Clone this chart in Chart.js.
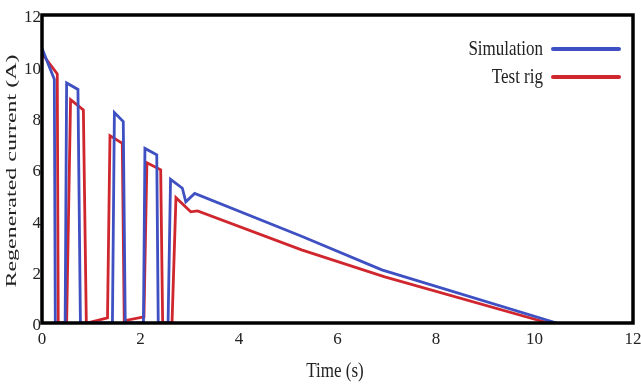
<!DOCTYPE html>
<html>
<head>
<meta charset="utf-8">
<script src="https://cdn.jsdelivr.net/npm/chart.js@4"></script>
<style>
  html, body { margin: 0; padding: 0; background: #fff; }
  #wrap { width: 641px; height: 385px; position: relative; }
</style>
</head>
<body>
<div id="wrap"><canvas id="chart"></canvas></div>
<script>
// values
const simTime = [0, 0.25, 0.27, 0.47, 0.5, 0.73, 0.78, 1.43, 1.47, 1.65, 1.69, 2.06, 2.09, 2.33, 2.36, 2.56, 2.61, 2.85, 2.92, 3.1, 5.27, 6.9, 10.45];
const simCurrent = [10.7, 9.5, 0, 0, 9.35, 9.1, 0, 0, 8.2, 7.85, 0, 0, 6.8, 6.55, 0, 0, 5.6, 5.25, 4.72, 5.05, 3.38, 2.07, 0];
const rigTime = [0, 0.31, 0.33, 0.5, 0.58, 0.84, 0.9, 0.95, 1.33, 1.38, 1.63, 1.67, 1.7, 2.07, 2.13, 2.41, 2.45, 2.64, 2.72, 3.02, 3.16, 5.27, 6.96, 10.28];
const rigCurrent = [10.5, 9.7, 0, 0, 8.7, 8.3, 0, 0.02, 0.2, 7.3, 7.0, 0, 0.1, 0.24, 6.24, 5.97, 0, 0, 4.88, 4.33, 4.37, 2.85, 1.8, 0];
const xTicks = [0, 2, 4, 6, 8, 10, 12];
const yTicks = [0, 2, 4, 6, 8, 10, 12];
const seriesNames = ["Simulation", "Test rig"];
const xTitle = "Time (s)";
const yTitle = "Regenerated current (A)";

const BLUE = "#3e50c2";
const RED = "#d0272f";
const FONT = "'Liberation Serif', 'DejaVu Serif', serif";

const toPoints = (xs, ys) => xs.map((x, i) => ({ x: x, y: ys[i] }));

// frame, axis titles and legend (text is a bit taller than wide in the original)
const extras = {
    id: "extras",
    afterDatasetsDraw(chart) {
        const { ctx, chartArea: a } = chart;
        ctx.save();
        ctx.strokeStyle = "#000";
        ctx.lineWidth = 3.5;
        ctx.strokeRect(a.left, a.top, a.right - a.left, a.bottom - a.top);
        ctx.restore();
    },
    afterDraw(chart) {
        const { ctx, chartArea: a } = chart;
        ctx.save();
        ctx.fillStyle = "#222";
        ctx.font = "17px " + FONT;
        ctx.textAlign = "center";
        ctx.textBaseline = "middle";

        // x title
        ctx.save();
        ctx.translate(335, 371);
        ctx.scale(1, 1.25);
        ctx.fillText(xTitle, 0, 0);
        ctx.restore();

        // y title
        ctx.save();
        ctx.font = "15px " + FONT;
        ctx.translate(12, (a.top + a.bottom) / 2 + 2);
        ctx.rotate(-Math.PI / 2);
        ctx.scale(1.6, 1);
        ctx.fillText(yTitle, 0, 0);
        ctx.restore();

        // legend: text on the left, line sample on the right
        const rows = [49, 77];
        chart.data.datasets.forEach((ds, i) => {
            const y = rows[i];
            ctx.save();
            ctx.translate(543, y);
            ctx.scale(1, 1.25);
            ctx.textAlign = "right";
            ctx.fillText(ds.label, 0, 0);
            ctx.restore();
            ctx.strokeStyle = ds.borderColor;
            ctx.lineWidth = 4;
            ctx.lineCap = "round";
            ctx.beginPath();
            ctx.moveTo(553, y);
            ctx.lineTo(619, y);
            ctx.stroke();
        });
        ctx.restore();
    }
};

new Chart(document.getElementById("chart"), {
    type: "line",
    data: {
        datasets: [
            { label: seriesNames[0], data: toPoints(simTime, simCurrent), borderColor: BLUE, borderWidth: 2.8 },
            { label: seriesNames[1], data: toPoints(rigTime, rigCurrent), borderColor: RED, borderWidth: 2.8 }
        ]
    },
    options: {
        responsive: true,
        maintainAspectRatio: false,
        animation: false,
        layout: { padding: { top: 15, right: 8, left: 0, bottom: 0 } },
        elements: { point: { radius: 0 }, line: { tension: 0 } },
        plugins: { legend: { display: false }, tooltip: { enabled: false } },
        scales: {
            x: {
                type: "linear",
                min: 0,
                max: 12,
                afterBuildTicks: s => { s.ticks = xTicks.map(v => ({ value: v })); },
                afterFit: s => { s.height = 62; s.paddingRight = 0; s.paddingLeft = 0; },
                grid: { display: false, drawTicks: false },
                border: { display: false },
                ticks: { color: "#222", padding: 6, font: { family: FONT, size: 17 }, maxRotation: 0 }
            },
            y: {
                min: 0,
                max: 12,
                afterBuildTicks: s => { s.ticks = yTicks.map(v => ({ value: v })); },
                afterFit: s => { s.width = 42; s.paddingTop = 0; s.paddingBottom = 0; },
                grid: { display: false, drawTicks: false },
                border: { display: false },
                ticks: { color: "#222", padding: 1, labelOffset: 3, font: { family: FONT, size: 17 } }
            }
        }
    },
    plugins: [extras]
});
</script>
</body>
</html>
